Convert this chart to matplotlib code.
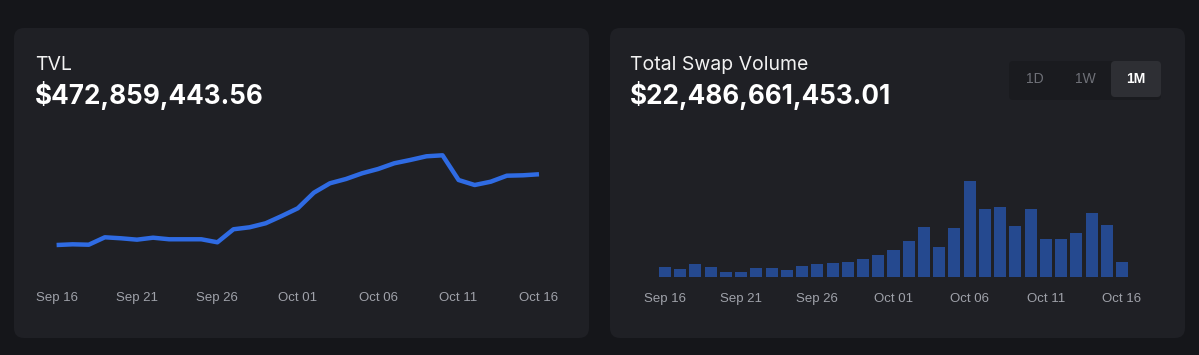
import numpy as np
import matplotlib.pyplot as plt
from matplotlib.patches import FancyBboxPatch

# data (TVL in $M, volume in $M per day)
days = list(range(31))
tick_pos = [0, 5, 10, 15, 20, 25, 30]
tick_labels = ['Sep 16', 'Sep 21', 'Sep 26', 'Oct 01', 'Oct 06', 'Oct 11', 'Oct 16']

tvl = [330.0, 331.4, 330.6, 345.6, 343.6, 340.8, 344.8, 341.6, 341.6, 341.6,
       335.5, 361.8, 365.8, 373.9, 388.6, 404.2, 435.7, 454.7, 463.4, 474.9,
       483.6, 495.1, 501.8, 509.2, 511.2, 461.3, 451.2, 457.9, 470.0, 470.8,
       472.9]

volume = [230, 184, 299, 237, 115, 122, 223, 214, 168, 253,
          306, 338, 345, 414, 513, 628, 835, 1166, 690, 1143,
          2224, 1580, 1626, 1189, 1580, 890, 890, 1028, 1488, 1196,
          345]

tvl_title = 'TVL'
tvl_total = '$472,859,443.56'
vol_title = 'Total Swap Volume'
vol_total = '$22,486,661,453.01'
ranges = ['1D', '1W', '1M']

W, H = 1199, 355
BG = '#15161a'
CARD = '#1f2025'
LINE = '#2f6be3'
BAR = '#25498f'
TICK = '#9fa2aa'

fig = plt.figure(figsize=(W / 100, H / 100), dpi=100, facecolor=BG)

# background axes in pixel coords
bg = fig.add_axes([0, 0, 1, 1])
bg.set_xlim(0, W)
bg.set_ylim(H, 0)
bg.axis('off')

for x0, x1 in [(14, 589), (610, 1185)]:
    bg.add_patch(FancyBboxPatch((x0 + 10, 28 + 10), x1 - x0 - 20, 310 - 20,
                                boxstyle='round,pad=10', fc=CARD, ec='none'))

title_font = ['Inter', 'DejaVu Sans']
num_font = ['Inter', 'DejaVu Sans']

bg.text(35, 70, tvl_title, color='#f2f2f2', fontsize=14, family=title_font, va='baseline')
bg.text(35, 104, tvl_total, color='white', fontsize=18.8, fontweight='bold', family=num_font, va='baseline')
bg.text(630, 70, vol_title, color='#f2f2f2', fontsize=14, family=title_font, va='baseline')
bg.text(630, 104, vol_total, color='white', fontsize=18.8, fontweight='bold', family=num_font, va='baseline')

# range selector
bg.add_patch(FancyBboxPatch((1013, 65), 144, 31, boxstyle='round,pad=4', fc='#1a1b1f', ec='none'))
bg.add_patch(FancyBboxPatch((1115, 65), 42, 28, boxstyle='round,pad=4', fc='#2e2f34', ec='none'))
for i, (lab, xc) in enumerate(zip(ranges, [1035, 1085, 1136])):
    sel = i == 2
    bg.text(xc, 79, lab, color='white' if sel else '#6f7178', fontsize=10,
            fontweight='bold' if sel else 'normal',
            family=['Liberation Sans', 'DejaVu Sans'], ha='center', va='center')


def px_axes(left, top, right, bottom):
    return fig.add_axes([left / W, 1 - bottom / H, (right - left) / W, (bottom - top) / H])


def style(ax, pad):
    ax.set_facecolor('none')
    for s in ax.spines.values():
        s.set_visible(False)
    ax.set_yticks([])
    ax.set_xticks(tick_pos)
    ax.set_xticklabels(tick_labels, fontsize=9.5, color=TICK, family=['Liberation Sans', 'DejaVu Sans'])
    ax.tick_params(axis='x', length=0, pad=pad)


# TVL line
ax1 = px_axes(56.6, 130, 539, 282)
ax1.plot(days, tvl, color=LINE, lw=3.2, solid_joinstyle='round', solid_capstyle='butt', clip_on=False)
ax1.set_xlim(0, 30)
ax1.set_ylim(255.3, 562.3)
style(ax1, 7)

# volume bars
ax2 = px_axes(657.4, 130, 1129.6, 277.3)
ax2.bar(days, volume, width=0.79, color=BAR)
ax2.set_xlim(-0.5, 30.5)
ax2.set_ylim(0, 3388)
style(ax2, 11)

fig.savefig('out.png', dpi=100, facecolor=BG)
